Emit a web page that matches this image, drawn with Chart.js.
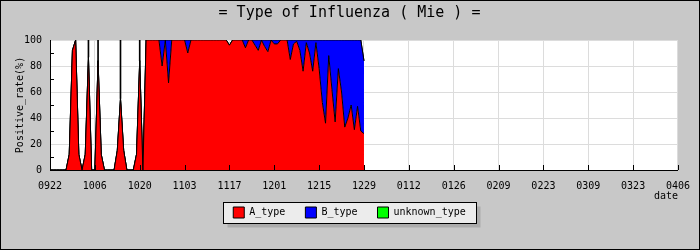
<!DOCTYPE html>
<html>
<head>
<meta charset="utf-8">
<script src="https://cdn.jsdelivr.net/npm/chart.js@4"></script>
<style>
  body { margin: 0; background: #c8c8c8; }
  canvas { display: block; }
</style>
</head>
<body>
<canvas id="chart" width="700" height="250"></canvas>
<script>
// one value per day, starting 0922 (day 0) up to 1229 (day 98)
const aType = [
  0, 0, 0, 0, 0, 0, 12, 92, 100, 12,
  0, 12, 87, 0, 0, 84, 12, 0, 0, 0,
  0, 15, 55, 15, 0, 0, 0, 12, 84, 0,
  100, 100, 100, 100, 100, 80, 100, 67, 100, 100,
  100, 100, 100, 90, 100, 100, 100, 100, 100, 100,
  100, 100, 100, 100, 100, 100, 96, 100, 100, 100,
  100, 94, 100, 100, 96, 92, 100, 95, 91, 100,
  97, 97, 100, 100, 100, 85, 97, 99, 92, 76,
  98, 90, 76, 98, 78, 52, 36, 88, 62, 37,
  78, 60, 33, 40, 50, 31, 49, 30, 28
];
const bType = [
  0, 0, 0, 0, 0, 0, 0, 0, 0, 0,
  0, 0, 13, 0, 0, 16, 0, 0, 0, 0,
  0, 0, 45, 0, 0, 0, 0, 0, 16, 0,
  0, 0, 0, 0, 0, 20, 0, 33, 0, 0,
  0, 0, 0, 10, 0, 0, 0, 0, 0, 0,
  0, 0, 0, 0, 0, 0, 0, 0, 0, 0,
  0, 6, 0, 0, 4, 8, 0, 5, 9, 0,
  3, 3, 0, 0, 0, 15, 3, 1, 8, 24,
  2, 10, 24, 2, 22, 48, 64, 12, 38, 63,
  22, 40, 67, 60, 50, 69, 51, 70, 56
];
const unknownType = [
  0, 0, 0, 0, 0, 0, 0, 0, 0, 0,
  0, 0, 0, 0, 0, 0, 0, 0, 0, 0,
  0, 0, 0, 0, 0, 0, 0, 0, 0, 0,
  0, 0, 0, 0, 0, 0, 0, 0, 0, 0,
  0, 0, 0, 0, 0, 0, 0, 0, 0, 0,
  0, 0, 0, 0, 0, 0, 0, 0, 0, 0,
  0, 0, 0, 0, 0, 0, 0, 0, 0, 0,
  0, 0, 0, 0, 0, 0, 0, 0, 0, 0,
  0, 0, 0, 0, 0, 0, 0, 0, 0, 0,
  0, 0, 0, 0, 0, 0, 0, 0, 0
];
const dateLabels = ['0922', '1006', '1020', '1103', '1117', '1201', '1215', '1229',
                    '0112', '0126', '0209', '0223', '0309', '0323', '0406'];
const daysPerLabel = 14;

const mono = 'DejaVu Sans Mono';
const toPoints = arr => arr.map((v, i) => ({ x: i, y: v }));

// days standing alone between empty days: the B share there shows as a thin stroke
const total = i => (aType[i] || 0) + (bType[i] || 0) + (unknownType[i] || 0);
const isolated = i => i > 0 && total(i - 1) < 50 && total(i + 1) < 50;
const bArea = bType.map((v, i) => isolated(i) ? 0 : v);
const bStrokes = bType
  .map((v, i) => ({ x: i, y: [aType[i], aType[i] + v], keep: isolated(i) && v > 0 }))
  .filter(p => p.keep);

const framePlugin = {
  id: 'frame',
  afterLayout(chart) {
    // pull the legend up a little closer to the axis
    chart.legend.top -= 6;
    chart.legend.bottom -= 6;
  },
  beforeDraw(chart) {
    const ctx = chart.ctx, a = chart.chartArea;
    ctx.save();
    ctx.fillStyle = '#c8c8c8';
    ctx.fillRect(0, 0, chart.width, chart.height);
    ctx.fillStyle = '#fff';
    ctx.fillRect(a.left, a.top, a.right - a.left, a.bottom - a.top);

    // legend box with shadow
    const lg = chart.legend;
    const hb = lg.legendHitBoxes;
    if (hb && hb.length) {
      const l = Math.round(Math.min(...hb.map(h => h.left)) - 10) + 0.5;
      const r = Math.round(Math.max(...hb.map(h => h.left + h.width)) + 10) + 0.5;
      const t = Math.round(lg.top + lg.options.labels.padding - 5) + 0.5;
      const h = 21;
      ctx.fillStyle = '#acacac';
      ctx.fillRect(l + 4, t + 4, r - l, h);
      ctx.fillStyle = '#ececec';
      ctx.fillRect(l, t, r - l, h);
      ctx.strokeStyle = '#000';
      ctx.lineWidth = 1;
      ctx.strokeRect(l, t, r - l, h);
    }
    ctx.restore();
  },
  afterDatasetsDraw(chart) {
    const ctx = chart.ctx, a = chart.chartArea;
    const xs = chart.scales.x, ys = chart.scales.y;
    ctx.save();
    ctx.strokeStyle = '#000';
    ctx.lineWidth = 1;
    ctx.beginPath();
    // axes
    ctx.moveTo(a.left + 0.5, a.top);
    ctx.lineTo(a.left + 0.5, a.bottom + 0.5);
    ctx.lineTo(a.right, a.bottom + 0.5);
    // x ticks inside
    xs.ticks.forEach(t => {
      const px = Math.round(xs.getPixelForValue(t.value)) + 0.5;
      ctx.moveTo(px, a.bottom);
      ctx.lineTo(px, a.bottom - 5);
    });
    // y minor ticks between labelled ticks
    for (let i = 0; i < ys.ticks.length - 1; i++) {
      const mid = (ys.ticks[i].value + ys.ticks[i + 1].value) / 2;
      const py = Math.round(ys.getPixelForValue(mid)) + 0.5;
      ctx.moveTo(a.left, py);
      ctx.lineTo(a.left + 4, py);
    }
    ctx.stroke();
    ctx.restore();
  },
  afterDraw(chart) {
    const ctx = chart.ctx;
    ctx.save();
    ctx.strokeStyle = '#000';
    ctx.lineWidth = 1;
    ctx.strokeRect(0.5, 0.5, chart.width - 1, chart.height - 1);
    ctx.restore();
  }
};

new Chart(document.getElementById('chart'), {
  type: 'line',
  data: {
    datasets: [
      { label: 'A_type', data: toPoints(aType), backgroundColor: '#ff0000', borderColor: '#000', fill: 'origin' },
      { label: 'B_type', data: toPoints(bArea), backgroundColor: '#0000ff', borderColor: '#000', fill: '-1' },
      { label: 'unknown_type', data: toPoints(unknownType), backgroundColor: '#00ff00', borderColor: '#000', fill: '-1' },
      { type: 'bar', label: 'B_type', data: bStrokes, backgroundColor: '#000', barThickness: 1, stack: 'strokes' }
    ]
  },
  options: {
    responsive: false,
    animation: false,
    devicePixelRatio: 1,
    layout: { padding: { left: 19, right: 20, top: 0, bottom: 16 } },
    elements: {
      line: { borderWidth: 1, tension: 0 },
      point: { radius: 0, hoverRadius: 0 }
    },
    scales: {
      x: {
        type: 'linear',
        offset: false,
        min: 0,
        max: daysPerLabel * (dateLabels.length - 1),
        afterFit: s => { s.height = 23; },
        ticks: {
          stepSize: daysPerLabel,
          autoSkip: false,
          maxRotation: 0,
          padding: 10,
          color: '#000',
          font: { family: mono, size: 10 },
          callback: (v, i) => dateLabels[i]
        },
        grid: { color: '#dcdcdc', drawTicks: false, offset: false },
        border: { color: '#000' },
        title: {
          display: true,
          text: 'date',
          align: 'end',
          color: '#000',
          font: { family: mono, size: 10 },
          padding: { top: 0, bottom: -9 }
        }
      },
      y: {
        stacked: true,
        min: 0,
        max: 100,
        afterFit: s => { s.width = 31; },
        ticks: {
          stepSize: 20,
          padding: 8,
          color: '#000',
          font: { family: mono, size: 10 }
        },
        grid: { color: '#dcdcdc', drawTicks: false },
        border: { color: '#000' },
        title: {
          display: true,
          text: 'Positive_rate(%)',
          color: '#000',
          font: { family: mono, size: 10 },
          padding: { top: -5, bottom: 0 }
        }
      }
    },
    plugins: {
      title: {
        display: true,
        text: '= Type of Influenza ( Mie ) =',
        color: '#000',
        font: { family: mono, size: 15, weight: 'normal' },
        padding: { top: 4, bottom: 18 }
      },
      legend: {
        position: 'bottom',
        labels: {
          boxWidth: 11,
          boxHeight: 11,
          padding: 20,
          color: '#000',
          font: { family: mono, size: 10 },
          filter: item => item.datasetIndex < 3
        }
      },
      tooltip: { enabled: false }
    }
  },
  plugins: [framePlugin]
});
</script>
</body>
</html>
